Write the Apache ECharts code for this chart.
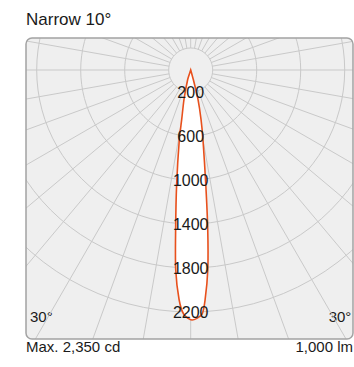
<!DOCTYPE html>
<html><head><meta charset="utf-8">
<script src="https://cdn.jsdelivr.net/npm/echarts@6/dist/echarts.min.js"></script>
<style>html,body{margin:0;padding:0;background:#fff}#c{width:354px;height:367px}</style>
</head><body><div id="c"></div>
<script>
// ---- data ----
const chartTitle = 'Narrow 10°';
const footLeft = 'Max. 2,350 cd';
const footRight = '1,000 lm';
const ringValues = [200, 600, 1000, 1400, 1800, 2200];
const ringLabels = ['200', '600', '1000', '1400', '1800', '2200'];
const angleLabelValues = [30, -30];
// gamma angle (deg, + = right of nadir) and luminous intensity (cd)
const curveAngles    = [-25, -17.5, -12.8, -10.3, -9.3, -7.0, -5.4, -4.3, -2.9, -1.6, 0.3, 2.6, 3.6, 4.9, 6.1, 7.5, 10.0, 11.8, 13.9, 15.3, 25];
const curveIntensity = [0,   91,    275,   457,   640,  1049, 1456, 1819, 2089, 2224, 2273, 2225, 2090, 1820, 1458, 1050, 642, 460, 276, 92, 0];

// ---- layout ----
const CX = 190.7, CY = 70.0, K = 0.11;
const RMAX = 2400, R = RMAX * K;
const BOX = {x: 26, y: 38, w: 327, h: 301, r: 6};
const FONT = 'Liberation Sans';
const GRID = '#c9c9c9';
const toAxis = a => (a < 0 ? a + 360 : a);

const chart = echarts.init(document.getElementById('c'), null, {renderer: 'svg'});
const hiddenAngle = (i) => ({polarIndex: i, type: 'value', min: 0, max: 360, startAngle: -90, clockwise: false,
  axisLine: {show: false}, axisTick: {show: false}, axisLabel: {show: false}, splitLine: {show: false}});
const hiddenRadius = (i) => ({polarIndex: i, type: 'value', min: 0, max: RMAX,
  axisLine: {show: false}, axisTick: {show: false}, axisLabel: {show: false}, splitLine: {show: false}});

const option = {
  animation: false,
  polar: [
    {center: [CX, CY], radius: [0, R]},
    {center: [CX, CY], radius: [ringValues[0] * K, 330]},
    {center: [CX, CY], radius: [0, R]}
  ],
  angleAxis: [
    hiddenAngle(0),
    {polarIndex: 1, type: 'value', min: 0, max: 360, interval: 10, startAngle: -90, clockwise: false, z: 0,
      axisLine: {show: false}, axisTick: {show: false},
      splitLine: {show: true, lineStyle: {color: GRID, width: 1}},
      axisLabel: {show: true, customValues: angleLabelValues.map(toAxis), margin: -54,
        fontFamily: FONT, fontSize: 15, color: '#1a1a1a',
        formatter: v => (v > 180 ? 360 - v : v) + '°'}},
    hiddenAngle(2)
  ],
  radiusAxis: [
    {polarIndex: 0, type: 'value', min: 0, max: RMAX, z: 0,
      axisLine: {show: false}, axisTick: {show: false, customValues: ringValues}, axisLabel: {show: false, customValues: ringValues},
      splitLine: {show: true, lineStyle: {color: GRID, width: 1}}},
    hiddenRadius(1),
    {polarIndex: 2, type: 'value', min: 0, max: RMAX, z: 20,
      axisLine: {show: false}, axisTick: {show: false, customValues: ringValues},
      splitLine: {show: false},
      axisLabel: {show: true, customValues: ringValues, margin: 0, align: 'center', verticalAlign: 'middle',
        fontFamily: FONT, fontSize: 16, color: '#1a1a1a',
        formatter: v => ringLabels[ringValues.indexOf(v)]}}
  ],
  series: [{
    type: 'custom', coordinateSystem: 'polar', polarIndex: 0, z: 5,
    data: curveIntensity.map((v, i) => [v, toAxis(curveAngles[i])]),
    renderItem: (params, api) => {
      if (params.dataIndex !== 0) return null;
      const pts = curveIntensity.map((v, i) => api.coord([v, toAxis(curveAngles[i])]));
      return {type: 'polygon', shape: {points: pts, smooth: 0.25},
        style: {fill: '#ffffff', stroke: '#e8501c', lineWidth: 1.6}};
    }
  }],
  graphic: [
    {type: 'rect', z: -10, shape: {x: BOX.x, y: BOX.y, width: BOX.w, height: BOX.h, r: BOX.r}, style: {fill: '#efefef'}},
    {type: 'rect', z: 50, silent: true, shape: {x: BOX.x - 300, y: BOX.y - 300, width: BOX.w + 600, height: BOX.h + 600, r: BOX.r + 300},
      style: {fill: 'none', stroke: '#ffffff', lineWidth: 600}},
    {type: 'rect', z: 51, shape: {x: BOX.x, y: BOX.y, width: BOX.w, height: BOX.h, r: BOX.r},
      style: {fill: 'none', stroke: '#a3a3a3', lineWidth: 1.5}},
    {type: 'text', z: 60, style: {x: 26, y: 19.5, text: chartTitle, font: '17px "' + FONT + '"', fill: '#1a1a1a', textVerticalAlign: 'middle'}},
    {type: 'text', z: 60, style: {x: 26, y: 346, text: footLeft, font: '15px "' + FONT + '"', fill: '#1a1a1a', textVerticalAlign: 'middle'}},
    {type: 'text', z: 60, style: {x: 353, y: 346, text: footRight, font: '15px "' + FONT + '"', fill: '#1a1a1a', textVerticalAlign: 'middle', textAlign: 'right'}}
  ]
};
chart.setOption(option);
</script></body></html>
